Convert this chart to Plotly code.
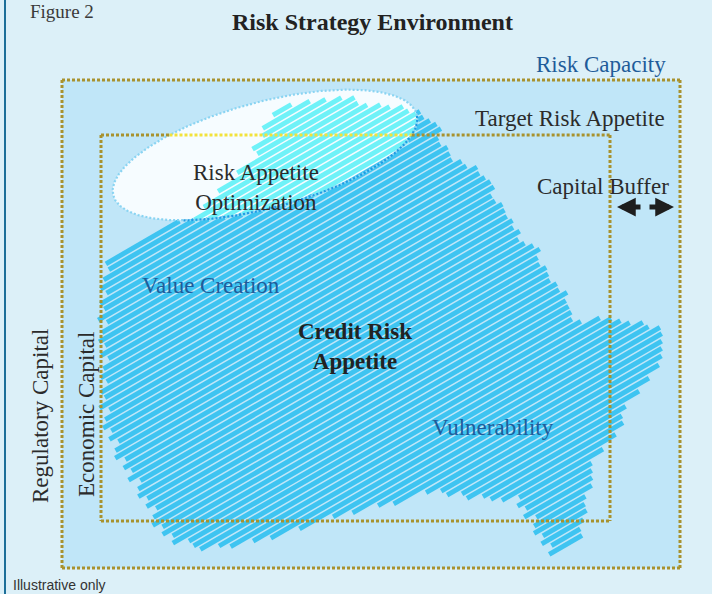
import numpy as np
import plotly.graph_objects as go

W, H = 712, 594

# ---------------- text content ----------------
FIGURE_LABEL = "Figure 2"
TITLE = "Risk Strategy Environment"
FOOTNOTE = "Illustrative only"
BOX_LABELS = ["Risk Capacity", "Target Risk Appetite", "Capital Buffer"]
SIDE_LABELS = ["Regulatory Capital", "Economic Capital"]
AREA_LABELS = ["Risk Appetite<br>Optimization", "Value Creation",
               "<b>Credit Risk<br>Appetite</b>", "Vulnerability"]

# ---------------- diagram geometry (diagram units) ----------------
RISK_CAPACITY_BOX = [62, 80, 680, 568]      # x0, y0, x1, y1
TARGET_APPETITE_BOX = [101, 135, 610, 521]
OPT_ELLIPSE = [265, 155, 157, 53, 15]       # cx, cy, semi-major, semi-minor, tilt deg

# outline of the hand-drawn "credit risk appetite" scribble
BLOB_X = [104, 150, 198, 253, 272, 300, 350, 400, 420, 440, 455, 475, 500, 510, 517,
          540, 555, 562, 570, 600, 612, 640, 660, 657, 664, 628, 620, 590, 588, 590,
          585, 580, 550, 540, 530, 515, 480, 440, 403, 348, 300, 257, 209, 182, 157,
          150, 140, 130, 117, 107, 104, 103]
BLOB_Y = [262, 232, 214, 157, 112, 103, 99, 106, 117, 132, 158, 172, 198, 215, 243,
          252, 283, 295, 325, 313, 318, 322, 333, 356, 364, 404, 430, 460, 480, 500,
          520, 540, 556, 535, 515, 498, 500, 490, 500, 513, 528, 543, 548, 543, 527,
          508, 490, 470, 455, 425, 400, 330]
HATCH_SLOPE = 0.58
HATCH_STEP = 7.4
# hand-drawn unevenness of stroke ends (repeating pattern, along x)
END_JITTER = [-3, 3, -1, 5, -4, 1, 4, -2, 2, -5, 0, 3]

# colours
PAGE_BG = "#dcf0f8"
BOX_BG = "#c0e6f8"
DOT_OLIVE = "#a8922e"
DOT_YELLOW = "#f2e23a"
STROKE_DARK = "#3ec4f1"
STROKE_LIGHT = "#6ff2f8"
ELL_FILL = "#f6fcff"
ELL_EDGE = "#8ad4f2"
ELL_EDGE_DARK = "#1f9be4"
BLUE_TXT = "#1f5c9a"
DARK_TXT = "#2b2b2b"
SERIF = "Liberation Serif, DejaVu Serif, serif"


# ---------------- helpers ----------------
def ellipse_local(x, y):
    cx, cy, a, b, ang = OPT_ELLIPSE
    t = np.radians(ang)
    dx, dy = np.asarray(x) - cx, np.asarray(y) - cy
    u = dx * np.cos(t) - dy * np.sin(t)
    v = dx * np.sin(t) + dy * np.cos(t)
    return u / a, v / b


def inside_ellipse(x, y):
    u, v = ellipse_local(x, y)
    return u ** 2 + v ** 2 < 1


def point_in_poly(x, y, px, py):
    inside = False
    n = len(px)
    j = n - 1
    for i in range(n):
        if ((py[i] > y) != (py[j] > y)) and \
                (x < (px[j] - px[i]) * (y - py[i]) / (py[j] - py[i] + 1e-12) + px[i]):
            inside = not inside
        j = i
    return inside


def hatch_segments(px, py, slope, step):
    px = np.array(px + [px[0]], float)
    py = np.array(py + [py[0]], float)
    k = py + slope * px
    segs = []
    c = k.min() + step / 2
    while c < k.max():
        xs = []
        for i in range(len(px) - 1):
            k0, k1 = k[i], k[i + 1]
            if (k0 - c) * (k1 - c) < 0:
                t = (c - k0) / (k1 - k0)
                xs.append(px[i] + t * (px[i + 1] - px[i]))
        xs.sort()
        for j in range(0, len(xs) - 1, 2):
            segs.append((xs[j], xs[j + 1], c))
        c += step
    return segs


# split hatch lines into parts inside / outside the optimisation ellipse
dark_x, dark_y, light_x, light_y = [], [], [], []
for n, (xa, xb, c) in enumerate(hatch_segments(BLOB_X, BLOB_Y, HATCH_SLOPE, HATCH_STEP)):
    xa = xa - END_JITTER[n % len(END_JITTER)]
    xb = xb + END_JITTER[(n * 5 + 3) % len(END_JITTER)]
    if xb - xa < 4:
        continue
    xs = np.linspace(xa, xb, max(int((xb - xa) * 2), 2))
    ys = c - HATCH_SLOPE * xs
    m = inside_ellipse(xs, ys)
    start = 0
    for i in range(1, len(xs) + 1):
        if i == len(xs) or m[i] != m[start]:
            tx, ty = (light_x, light_y) if m[start] else (dark_x, dark_y)
            tx += [xs[start], xs[i - 1], None]
            ty += [ys[start], ys[i - 1], None]
            start = i

# ellipse outline
cx, cy, ea, eb, eang = OPT_ELLIPSE
tt = np.linspace(0, 2 * np.pi, 400)
th = np.radians(eang)
ell_x = cx + ea * np.cos(tt) * np.cos(th) + eb * np.sin(tt) * np.sin(th)
ell_y = cy - ea * np.cos(tt) * np.sin(th) + eb * np.sin(tt) * np.cos(th)
dark_edge = np.array([point_in_poly(x, y, BLOB_X, BLOB_Y) and (np.sin(t) > -0.2)
                      for x, y, t in zip(ell_x, ell_y, tt)])
edge_dx = [x if d else None for x, d in zip(ell_x, dark_edge)]
edge_dy = [y if d else None for y, d in zip(ell_y, dark_edge)]

fig = go.Figure()
fig.add_trace(go.Scatter(x=ell_x, y=ell_y, fill="toself", fillcolor=ELL_FILL,
                         mode="lines", line=dict(width=0), hoverinfo="skip"))
fig.add_trace(go.Scatter(x=dark_x, y=dark_y, mode="lines",
                         line=dict(color=STROKE_DARK, width=4.9), hoverinfo="skip"))
fig.add_trace(go.Scatter(x=light_x, y=light_y, mode="lines",
                         line=dict(color=STROKE_LIGHT, width=4.9), hoverinfo="skip"))
fig.add_trace(go.Scatter(x=ell_x, y=ell_y, mode="lines",
                         line=dict(color=ELL_EDGE, width=2.2, dash="2px,2px"),
                         hoverinfo="skip"))
fig.add_trace(go.Scatter(x=edge_dx, y=edge_dy, mode="lines",
                         line=dict(color=ELL_EDGE_DARK, width=2.2, dash="2px,2px"),
                         hoverinfo="skip"))

shapes = []
# page left rule
shapes.append(dict(type="line", x0=5, x1=5, y0=0, y1=H, line=dict(color="#1d6f99", width=2),
                   layer="above"))
# box fills
x0, y0, x1, y1 = RISK_CAPACITY_BOX
shapes.append(dict(type="rect", x0=x0, y0=y0, x1=x1, y1=y1, fillcolor=BOX_BG,
                   line=dict(width=0), layer="below"))
dot = dict(color=DOT_OLIVE, width=3, dash="3px,2px")
for bx in (RISK_CAPACITY_BOX, TARGET_APPETITE_BOX):
    a0, b0, a1, b1 = bx
    shapes.append(dict(type="line", x0=a0, x1=a1, y0=b1, y1=b1, line=dot, layer="above"))
    shapes.append(dict(type="line", x0=a0, x1=a0, y0=b0, y1=b1, line=dot, layer="above"))
    shapes.append(dict(type="line", x0=a1, x1=a1, y0=b0, y1=b1, line=dot, layer="above"))
# top edges, the inner one turns yellow where it crosses the ellipse
a0, b0, a1, b1 = RISK_CAPACITY_BOX
shapes.append(dict(type="line", x0=a0, x1=a1, y0=b0, y1=b0, line=dot, layer="above"))
a0, b0, a1, b1 = TARGET_APPETITE_BOX
xs = np.linspace(a0, a1, 2000)
inn = inside_ellipse(xs, np.full_like(xs, b0))
xl, xr = xs[inn].min(), xs[inn].max()
shapes.append(dict(type="line", x0=a0, x1=xl, y0=b0, y1=b0, line=dot, layer="above"))
shapes.append(dict(type="line", x0=xr, x1=a1, y0=b0, y1=b0, line=dot, layer="above"))
shapes.append(dict(type="line", x0=xl, x1=xr, y0=b0, y1=b0,
                   line=dict(color=DOT_YELLOW, width=3, dash="3px,2px"), layer="above"))

ann = []


def txt(text, x, y, size=23, color=DARK_TXT, xanchor="center", angle=0, family=SERIF,
        yanchor="middle"):
    ann.append(dict(text=text, x=x, y=y, xref="x", yref="y", showarrow=False,
                    xanchor=xanchor, yanchor=yanchor, textangle=angle,
                    font=dict(family=family, size=size, color=color)))


txt(FIGURE_LABEL, 28, 11, size=19, color="#3a3a3a", xanchor="left")
txt("<b>" + TITLE + "</b>", 372, 22, size=24, color="#222222")
txt(BOX_LABELS[0], 668, 64, color=BLUE_TXT, xanchor="right")
txt(BOX_LABELS[1], 667, 118, xanchor="right")
txt(BOX_LABELS[2], 671, 186, xanchor="right")
txt(AREA_LABELS[0], 191, 187, xanchor="left")
txt(AREA_LABELS[1], 140, 285, color=BLUE_TXT, xanchor="left")
txt(AREA_LABELS[2], 355, 346, color="#222222")
txt(AREA_LABELS[3], 430, 427, color=BLUE_TXT, xanchor="left")
txt(SIDE_LABELS[0], 40, 416, angle=-90)
txt(SIDE_LABELS[1], 86, 415, angle=-90)
txt(FOOTNOTE, 11, 585, size=14, color="#333333", xanchor="left",
    family="Liberation Sans Narrow, Liberation Sans, sans-serif")

# capital buffer arrows
for head, tail in ((617, 642), (674, 648)):
    ann.append(dict(x=head, y=207, ax=tail, ay=207, xref="x", yref="y", axref="x",
                    ayref="y", text="", showarrow=True, arrowhead=2, arrowsize=0.75,
                    arrowwidth=5, arrowcolor="#1e1e1e"))

fig.update_layout(
    width=W, height=H, autosize=False,
    margin=dict(l=0, r=0, t=0, b=0),
    paper_bgcolor=PAGE_BG, plot_bgcolor=PAGE_BG,
    showlegend=False, shapes=shapes, annotations=ann,
    xaxis=dict(range=[0, W], visible=False, fixedrange=True),
    yaxis=dict(range=[H, 0], visible=False, fixedrange=True),
)
fig.write_html("out.html", config={"displayModeBar": False})

# remove the browser's default page margin so the diagram fills the window
with open("out.html", encoding="utf-8") as f:
    html = f.read()
html = html.replace("<body>", '<body style="margin:0;padding:0;overflow:hidden">', 1)
with open("out.html", "w", encoding="utf-8") as f:
    f.write(html)
